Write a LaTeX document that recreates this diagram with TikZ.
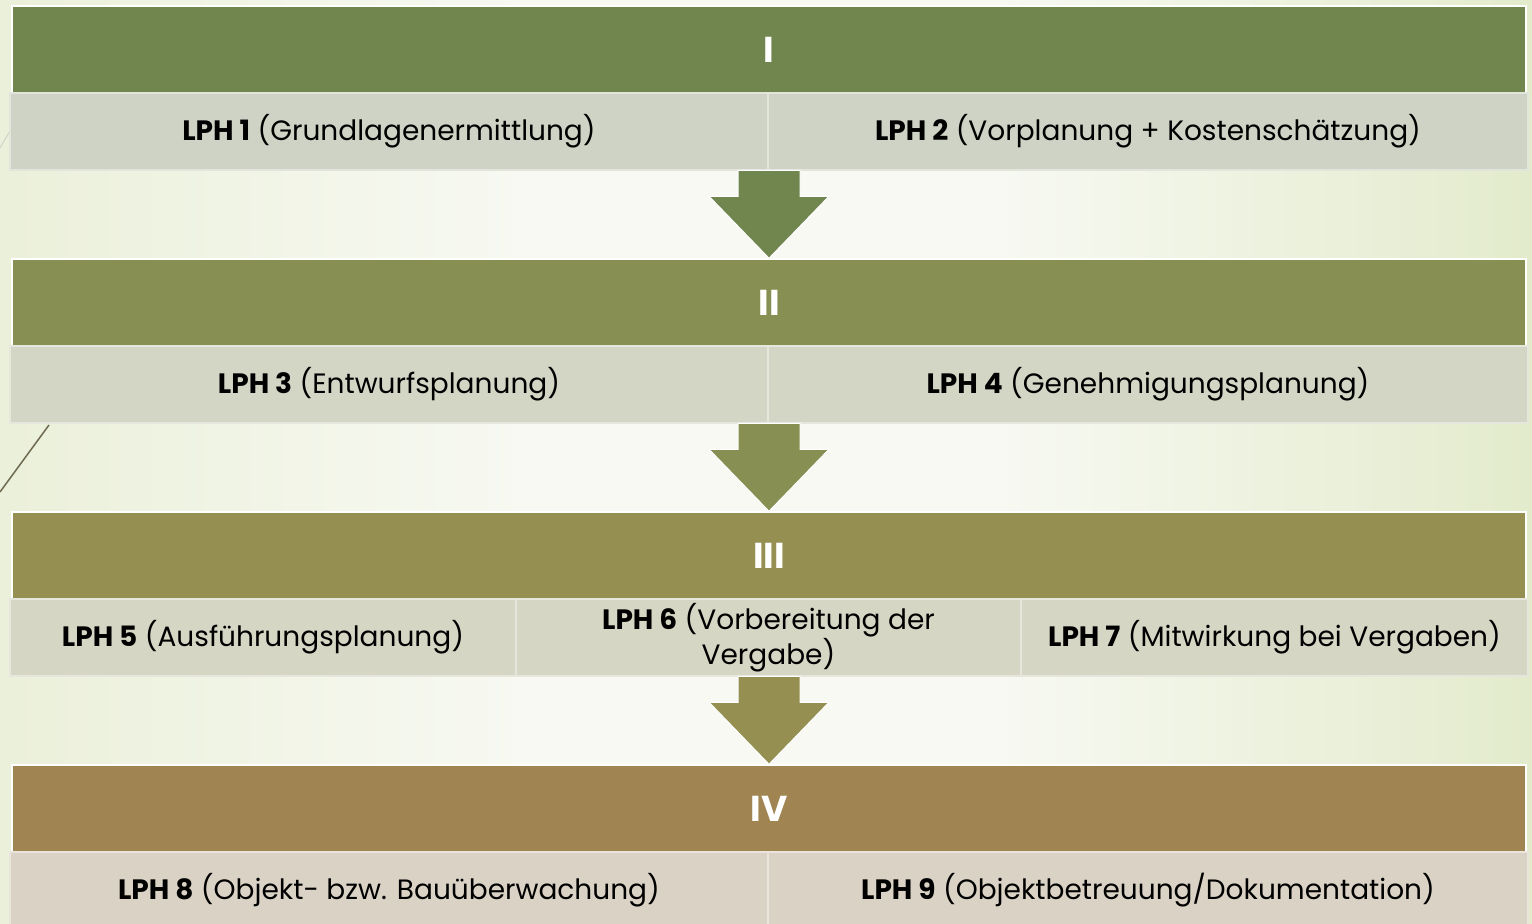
\documentclass[tikz,border=0pt]{standalone}
\usepackage{fontspec}
\setmainfont{Poppins}
\usepackage{tikz}
\usetikzlibrary{positioning,calc}
\definecolor{phaseI}{HTML}{71854F}
\definecolor{phaseII}{HTML}{878F52}
\definecolor{phaseIII}{HTML}{959052}
\definecolor{phaseIV}{HTML}{A08452}
\definecolor{cellI}{HTML}{CED3C5}
\definecolor{cellII}{HTML}{D3D5C5}
\definecolor{cellIII}{HTML}{D6D6C4}
\definecolor{cellIV}{HTML}{DAD2C4}
\definecolor{bgleft}{HTML}{EBF0DA}
\definecolor{bgmid}{HTML}{F7F9F2}
\definecolor{bgright}{HTML}{E3EBCC}
\definecolor{deco}{HTML}{6E6A50}
\tikzstyle{phase} = [rectangle, draw=white, line width=1.5pt, minimum width=1514pt,
	minimum height=87pt, inner sep=0pt, text=white,
	font=\bfseries\fontsize{36}{40}\selectfont]
\tikzstyle{lph} = [rectangle, line width=1.5pt, minimum height=77pt, inner sep=0pt,
	align=center, font=\fontsize{28}{32}\selectfont]
\tikzstyle{flow} = [draw=white, line width=1pt]

\begin{document}
\begin{tikzpicture}[x=1pt, y=-1pt]
	\useasboundingbox (0,0) rectangle (1532,924);
	% Background
	\shade[left color=bgleft, right color=bgmid] (0,0) rectangle (521,924);
	\fill[bgmid] (520,0) rectangle (1001,924);
	\shade[left color=bgmid, right color=bgright] (1000,0) rectangle (1532,924);
	\draw[deco, line width=1.5pt] (49,425) -- (0,492);
	\draw[deco!30, line width=1pt] (10,131) -- (0,148);
	% Place nodes
	\node [phase, fill=phaseI] (headI) at (769,49.5) {I};
	\node [lph, fill=cellI, draw=cellI!60!white, minimum width=758pt] (lph1) at (389,131.5)
		{\textbf{LPH 1} (Grundlagenermittlung)};
	\node [lph, fill=cellI, draw=cellI!60!white, minimum width=760pt] (lph2) at (1148,131.5)
		{\textbf{LPH 2} (Vorplanung + Kostenschätzung)};
	\node [phase, fill=phaseII] (headII) at (769,302.5) {II};
	\node [lph, fill=cellII, draw=cellII!60!white, minimum width=758pt] (lph3) at (389,384.5)
		{\textbf{LPH 3} (Entwurfsplanung)};
	\node [lph, fill=cellII, draw=cellII!60!white, minimum width=760pt] (lph4) at (1148,384.5)
		{\textbf{LPH 4} (Genehmigungsplanung)};
	\node [phase, fill=phaseIII] (headIII) at (769,555.5) {III};
	\node [lph, fill=cellIII, draw=cellIII!60!white, minimum width=506pt] (lph5) at (263,637.5)
		{\textbf{LPH 5} (Ausführungsplanung)};
	\node [lph, fill=cellIII, draw=cellIII!60!white, minimum width=505pt] (lph6) at (768.5,637.5)
		{\textbf{LPH 6} (Vorbereitung der\\Vergabe)};
	\node [lph, fill=cellIII, draw=cellIII!60!white, minimum width=507pt] (lph7) at (1274.5,637.5)
		{\textbf{LPH 7} (Mitwirkung bei Vergaben)};
	\node [phase, fill=phaseIV] (headIV) at (769,808.5) {IV};
	\node [lph, fill=cellIV, draw=cellIV!60!white, minimum width=758pt] (lph8) at (389,890.5)
		{\textbf{LPH 8} (Objekt- bzw. Bauüberwachung)};
	\node [lph, fill=cellIV, draw=cellIV!60!white, minimum width=760pt] (lph9) at (1148,890.5)
		{\textbf{LPH 9} (Objektbetreuung/Dokumentation)};
	% Draw arrows
	\foreach \src/\dst in {I/II, II/III, III/IV}
		\draw [flow, fill=phase\src] (head\dst.north) -- ++(60,-62) -- ++(-29,0) -- ++(0,-26)
			-- ++(-62,0) -- ++(0,26) -- ++(-29,0) -- cycle;
\end{tikzpicture}
\end{document}
